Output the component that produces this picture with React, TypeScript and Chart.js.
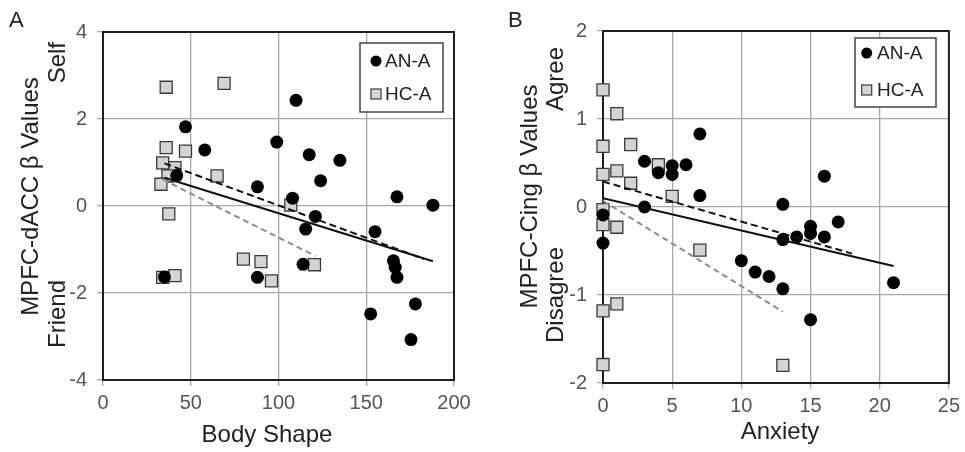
import React, { useEffect, useRef } from "react";
import { Chart, registerables } from "chart.js";

Chart.register(...registerables);

const FONT = '"Liberation Sans", Arial, Helvetica, sans-serif';

// ---------- Panel A: Body Shape ----------
const shapeAnaX = [47, 58, 42, 88, 99, 110, 108, 117.5, 115.5, 124, 121, 114, 135, 88, 35, 155, 152.5, 167.5, 165.5, 166.5, 167.5, 178, 175.5, 188];
const shapeAnaY = [1.82, 1.29, 0.7, 0.44, 1.47, 2.43, 0.18, 1.18, -0.53, 0.58, -0.24, -1.34, 1.05, -1.64, -1.63, -0.59, -2.48, 0.21, -1.26, -1.41, -1.64, -2.25, -3.07, 0.02];
const shapeHcaX = [36, 69, 36, 47, 34, 41, 37, 33, 65, 37.5, 107, 80, 90, 96, 120.5, 34, 41];
const shapeHcaY = [2.73, 2.82, 1.34, 1.26, 0.99, 0.88, 0.69, 0.5, 0.69, -0.18, 0.02, -1.22, -1.28, -1.72, -1.35, -1.64, -1.6];
const shapeAnaFitX = [35, 188];
const shapeAnaFitY = [0.65, -1.27];
const shapeAllFitX = [35, 183];
const shapeAllFitY = [0.98, -1.22];
const shapeHcaFitX = [34, 121];
const shapeHcaFitY = [0.61, -1.15];

// ---------- Panel B: Anxiety ----------
const anxAnaX = [0, 0, 3, 3, 4, 5, 5, 6, 7, 7, 10, 11, 12, 13, 13, 13, 14, 15, 15, 15, 16, 16, 17, 21];
const anxAnaY = [-0.09, -0.41, 0.52, 0.0, 0.39, 0.47, 0.37, 0.48, 0.83, 0.13, -0.61, -0.74, -0.79, -0.93, 0.03, -0.37, -0.34, -0.22, -0.3, -1.28, -0.34, 0.35, -0.17, -0.86];
const anxHcaX = [0, 1, 0, 2, 0, 1, 2, 4, 5, 0, 0, 1, 7, 1, 0, 0, 13];
const anxHcaY = [1.33, 1.06, 0.69, 0.71, 0.37, 0.41, 0.27, 0.48, 0.12, -0.03, -0.2, -0.23, -0.49, -1.1, -1.18, -1.79, -1.8];
const anxAnaFitX = [0, 21];
const anxAnaFitY = [0.1, -0.67];
const anxAllFitX = [0, 18];
const anxAllFitY = [0.29, -0.53];
const anxHcaFitX = [0, 13];
const anxHcaFitY = [0.07, -1.19];

const seriesNames = ["AN-A", "HC-A"];

const zip = (xs: number[], ys: number[]) => xs.map((x, i) => ({ x, y: ys[i] }));

type PanelDef = {
  key: string;
  left: number;
  width: number;
  letter: string;
  letterX: number;
  xMin: number; xMax: number; xStep: number;
  yMin: number; yMax: number; yStep: number;
  padTop: number; padRight: number; yAxisW: number; xAxisH: number;
  xTitle: string; xTitleX: number; xTitleY: number;
  yTitle: string; yTitleX: number; yTitleY: number;
  yTop: string; yBottom: string; ySubX: number; yTopEnd: number; yBottomStart: number;
  legend: { x: number; y: number; w: number; h: number; mx: number; tx: number; r1: number; r2: number };
  ana: { x: number; y: number }[];
  hca: { x: number; y: number }[];
  anaFit: { x: number; y: number }[];
  allFit: { x: number; y: number }[];
  hcaFit: { x: number; y: number }[];
};

const panels: PanelDef[] = [
  {
    key: "A", left: 0, width: 482, letter: "A", letterX: 9,
    xMin: 0, xMax: 200, xStep: 50, yMin: -4, yMax: 4, yStep: 2,
    padTop: 32, padRight: 28, yAxisW: 103, xAxisH: 72,
    xTitle: "Body Shape", xTitleX: 267, xTitleY: 442,
    yTitle: "MPFC-dACC \u03B2 Values", yTitleX: 31.5, yTitleY: 196.5,
    yTop: "Self", yBottom: "Friend", ySubX: 58.5, yTopEnd: 42, yBottomStart: 348,
    legend: { x: 360, y: 43, w: 83, h: 69, mx: 376, tx: 385, r1: 61, r2: 94 },
    ana: zip(shapeAnaX, shapeAnaY), hca: zip(shapeHcaX, shapeHcaY),
    anaFit: zip(shapeAnaFitX, shapeAnaFitY), allFit: zip(shapeAllFitX, shapeAllFitY), hcaFit: zip(shapeHcaFitX, shapeHcaFitY),
  },
  {
    key: "B", left: 482, width: 483, letter: "B", letterX: 26,
    xMin: 0, xMax: 25, xStep: 5, yMin: -2, yMax: 2, yStep: 1,
    padTop: 31, padRight: 16, yAxisW: 121, xAxisH: 69,
    xTitle: "Anxiety", xTitleX: 298, xTitleY: 439,
    yTitle: "MPFC-Cing \u03B2 Values", yTitleX: 48, yTitleY: 196.5,
    yTop: "Agree", yBottom: "Disagree", ySubX: 74.6, yTopEnd: 47, yBottomStart: 343,
    legend: { x: 373, y: 38, w: 81, h: 69, mx: 384.7, tx: 395, r1: 53, r2: 90 },
    ana: zip(anxAnaX, anxAnaY), hca: zip(anxHcaX, anxHcaY),
    anaFit: zip(anxAnaFitX, anxAnaFitY), allFit: zip(anxAllFitX, anxAllFitY), hcaFit: zip(anxHcaFitX, anxHcaFitY),
  },
];

function rotText(ctx: CanvasRenderingContext2D, text: string, x: number, y: number, align: CanvasTextAlign) {
  ctx.save();
  ctx.translate(x, y);
  ctx.rotate(-Math.PI / 2);
  ctx.textAlign = align;
  ctx.textBaseline = "middle";
  ctx.fillText(text, 0, 0);
  ctx.restore();
}

function makePlugin(p: PanelDef) {
  return {
    id: "decor" + p.key,
    beforeDatasetsDraw(chart: any) {
      const { ctx, chartArea: a } = chart;
      ctx.save();
      ctx.strokeStyle = "#1e1e1e";
      ctx.lineWidth = 2;
      ctx.strokeRect(a.left, a.top, a.right - a.left, a.bottom - a.top);
      ctx.restore();
    },
    afterDraw(chart: any) {
      const ctx: CanvasRenderingContext2D = chart.ctx;
      ctx.save();
      ctx.fillStyle = "#222";
      ctx.font = `22px ${FONT}`;
      ctx.textAlign = "left";
      ctx.textBaseline = "alphabetic";
      ctx.fillText(p.letter, p.letterX, 27);

      ctx.font = `24px ${FONT}`;
      ctx.textAlign = "center";
      ctx.fillText(p.xTitle, p.xTitleX, p.xTitleY);
      rotText(ctx, p.yTitle, p.yTitleX, p.yTitleY, "center");
      rotText(ctx, p.yTop, p.ySubX, p.yTopEnd, "right");
      rotText(ctx, p.yBottom, p.ySubX, p.yBottomStart, "left");

      // legend
      const L = p.legend;
      ctx.fillStyle = "#fff";
      ctx.fillRect(L.x, L.y, L.w, L.h);
      ctx.strokeStyle = "#444";
      ctx.lineWidth = 1.5;
      ctx.strokeRect(L.x, L.y, L.w, L.h);
      ctx.fillStyle = "#000";
      ctx.beginPath();
      ctx.arc(L.mx, L.r1, 5.5, 0, Math.PI * 2);
      ctx.fill();
      ctx.fillStyle = "#d6d6d6";
      ctx.fillRect(L.mx - 5, L.r2 - 5, 10, 10);
      ctx.strokeStyle = "#3a3a3a";
      ctx.lineWidth = 1.2;
      ctx.strokeRect(L.mx - 5, L.r2 - 5, 10, 10);
      ctx.fillStyle = "#222";
      ctx.font = `19px ${FONT}`;
      ctx.textAlign = "left";
      ctx.textBaseline = "middle";
      ctx.fillText(seriesNames[0], L.tx, L.r1 + 1);
      ctx.fillText(seriesNames[1], L.tx, L.r2 + 1);
      ctx.restore();
    },
  };
}

function Panel({ p }: { p: PanelDef }) {
  const ref = useRef<HTMLCanvasElement | null>(null);
  useEffect(() => {
    if (!ref.current) return;
    const gridColor = "#a9a9a9";
    const tickFont = { family: FONT, size: 20 };
    const chart = new Chart(ref.current, {
      type: "scatter",
      data: {
        datasets: [
          { label: "AN-A fit", data: p.anaFit, showLine: true, pointRadius: 0, borderColor: "#111", borderWidth: 2, fill: false } as any,
          { label: "All fit", data: p.allFit, showLine: true, pointRadius: 0, borderColor: "#111", borderWidth: 2, borderDash: [7, 4], fill: false } as any,
          { label: "HC-A fit", data: p.hcaFit, showLine: true, pointRadius: 0, borderColor: "#8c8c8c", borderWidth: 2, borderDash: [6, 4], fill: false } as any,
          { label: seriesNames[0], data: p.ana, clip: 12, pointStyle: "circle", pointRadius: 6.5, backgroundColor: "#000", borderColor: "#000", borderWidth: 0 } as any,
          { label: seriesNames[1], data: p.hca, clip: 12, pointStyle: "rect", pointRadius: 8.5, backgroundColor: "#d4d4d4", borderColor: "#3a3a3a", borderWidth: 1.3 } as any,
        ],
      },
      options: {
        responsive: false,
        animation: false,
        events: [],
        layout: { padding: { top: p.padTop, right: p.padRight, left: 0, bottom: 0 } },
        plugins: { legend: { display: false }, tooltip: { enabled: false }, title: { display: false } },
        scales: {
          x: {
            type: "linear",
            min: p.xMin, max: p.xMax,
            ticks: { stepSize: p.xStep, font: tickFont, color: "#555", padding: 5, maxRotation: 0 },
            grid: { color: gridColor, lineWidth: 1.3, tickLength: 6, drawTicks: true },
            border: { display: false },
            afterFit: (s: any) => { s.height = p.xAxisH; },
          },
          y: {
            type: "linear",
            min: p.yMin, max: p.yMax,
            ticks: { stepSize: p.yStep, font: tickFont, color: "#555", padding: 10 },
            grid: { color: gridColor, lineWidth: 1.3, tickLength: 6, drawTicks: true },
            border: { display: false },
            afterFit: (s: any) => { s.width = p.yAxisW; },
          },
        },
      } as any,
      plugins: [makePlugin(p)],
    });
    return () => chart.destroy();
  }, [p]);
  return (
    <div style={{ position: "absolute", left: p.left, top: 0, width: p.width, height: 452 }}>
      <canvas ref={ref} width={p.width} height={452} style={{ display: "block", width: p.width, height: 452 }} />
    </div>
  );
}

export default function App() {
  return (
    <div style={{ position: "fixed", left: 0, top: 0, width: 965, height: 452, background: "#fff", overflow: "hidden" }}>
      {panels.map((p) => (
        <Panel key={p.key} p={p} />
      ))}
    </div>
  );
}
